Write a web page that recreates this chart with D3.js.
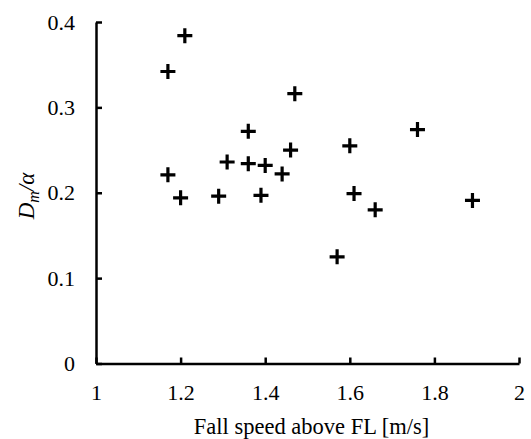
<!DOCTYPE html>
<html>
<head>
<meta charset="utf-8">
<script src="https://cdn.jsdelivr.net/npm/d3@7"></script>
<style>
  body { margin: 0; background: #fff; }
</style>
</head>
<body>
<div class="chart"></div>
<script>
// fall speed above FL [m/s] and Dm/alpha
const speed = [1.21, 1.17, 1.47, 1.36, 1.46, 1.60, 1.31, 1.36, 1.40, 1.44,
               1.17, 1.20, 1.29, 1.39, 1.61, 1.66, 1.76, 1.89, 1.57];
const ratio = [0.384, 0.342, 0.316, 0.272, 0.250, 0.255, 0.236, 0.234, 0.232, 0.222,
               0.221, 0.194, 0.196, 0.197, 0.199, 0.180, 0.274, 0.191, 0.125];
const xTicks = [1, 1.2, 1.4, 1.6, 1.8, 2];
const yTicks = [0, 0.1, 0.2, 0.3, 0.4];

var serif = "'Liberation Serif', 'Times New Roman', serif";
var width = 531;
var height = 439;
var margin = { left: 96, right: 12, top: 22, bottom: 75.5 };

var svg = d3.select(".chart").append("svg")
    .attr("width", width)
    .attr("height", height)
    .style("font-family", serif);

var x = d3.scaleLinear().domain([1, 2]).range([margin.left, width - margin.right]);
var y = d3.scaleLinear().domain([0, 0.4]).range([height - margin.bottom, margin.top]);

var xAxis = svg.append("g")
    .attr("transform", "translate(0," + y(0) + ")")
    .call(d3.axisBottom(x).tickValues(xTicks).tickSizeInner(-6).tickSizeOuter(0)
        .tickPadding(21).tickFormat(d3.format("")));

var yAxis = svg.append("g")
    .attr("transform", "translate(" + x(1) + ",0)")
    .call(d3.axisLeft(y).tickValues(yTicks).tickSizeInner(-6).tickSizeOuter(0)
        .tickPadding(21).tickFormat(d3.format("")));

[xAxis, yAxis].forEach(function(g) {
    g.attr("font-family", null).attr("font-size", null);
    g.select(".domain").attr("stroke", "#000").attr("stroke-width", 2.5);
    g.selectAll(".tick line").attr("stroke", "#000").attr("stroke-width", 2.5);
    g.selectAll(".tick text")
        .style("font-family", serif)
        .style("font-size", "22px")
        .attr("fill", "#000");
});

// plus markers
var pts = speed.map(function(d, i) { return [d, ratio[i]]; });
var r = 7.5;
svg.append("g").selectAll("path")
    .data(pts)
    .enter()
    .append("path")
    .attr("d", function(d) {
        var cx = x(d[0]), cy = y(d[1]);
        return "M" + (cx - r) + "," + cy + "H" + (cx + r) + "M" + cx + "," + (cy - r) + "V" + (cy + r);
    })
    .attr("stroke", "#000")
    .attr("stroke-width", 3.2)
    .attr("fill", "none");

svg.append("text")
    .attr("x", (x(1) + x(2)) / 2 + 4)
    .attr("y", 434)
    .attr("text-anchor", "middle")
    .style("font-family", serif)
    .style("font-size", "22.5px")
    .text("Fall speed above FL [m/s]");

var yl = svg.append("text")
    .attr("transform", "translate(34,196) rotate(-90)")
    .attr("text-anchor", "middle")
    .style("font-family", serif)
    .style("font-size", "23px")
    .style("font-style", "italic");
yl.append("tspan").text("D");
yl.append("tspan").style("font-size", "16px").attr("dy", 5).text("m");
yl.append("tspan").attr("dy", -5).text("/α");
</script>
</body>
</html>
